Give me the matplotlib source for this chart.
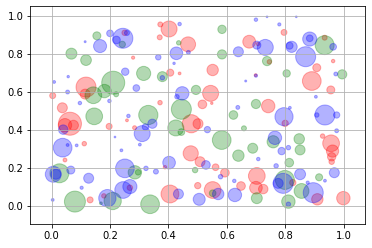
import matplotlib
matplotlib.use("Agg")
import matplotlib.pyplot as plt

colors = ["red", "green", "blue"]

red_x = [0.250, 0.402, 0.372, 0.370, 0.467, 0.279, 0.406, 0.438, 0.795, 0.676, 0.706, 0.745,
         0.551, 0.934, 0.907, 0.963, 0.890, 0.955, 0.698, 0.118, 0.115, 0.004, 0.037, 0.063,
         0.046, 0.075, 0.197, 0.112, 0.046, 0.132, 0.179, 0.268, 0.544, 0.516, 0.371, 0.548,
         0.284, 0.478, 0.501, 0.476, 0.508, 0.561, 0.593, 0.388, 0.551, 0.405, 0.500, 0.741,
         0.799, 0.956, 0.961, 0.958, 0.958, 0.927, 0.702, 0.699, 0.724, 0.825, 0.909, 0.998,
         0.648, 0.258]
red_y = [0.912, 0.932, 0.956, 0.888, 0.851, 0.781, 0.702, 0.698, 0.914, 0.865, 0.853, 0.759,
         0.716, 0.886, 0.728, 0.763, 0.658, 0.611, 0.689, 0.626, 0.589, 0.581, 0.517, 0.433,
         0.425, 0.425, 0.419, 0.328, 0.242, 0.032, 0.053, 0.096, 0.593, 0.535, 0.544, 0.541,
         0.412, 0.433, 0.433, 0.277, 0.233, 0.204, 0.175, 0.204, 0.084, 0.063, 0.107, 0.526,
         0.435, 0.330, 0.289, 0.259, 0.233, 0.368, 0.158, 0.096, 0.089, 0.123, 0.035, 0.041,
         0.105, 0.451]
red_s = [30, 256, 25, 25, 225, 10, 50, 8, 35, 165, 12, 20,
         130, 25, 64, 12, 350, 64, 8, 400, 100, 36, 100, 530,
         180, 100, 36, 20, 15, 36, 20, 30, 256, 75, 20, 6,
         16, 330, 100, 230, 100, 45, 75, 12, 280, 320, 40, 180,
         40, 280, 150, 70, 30, 20, 280, 160, 90, 40, 130, 180,
         75, 8]

green_x = [0.155, 0.068, 0.118, 0.211, 0.242, 0.435, 0.315, 0.379, 0.583, 0.583, 0.737, 0.934,
           0.804, 0.994, 0.143, 0.181, 0.146, 0.221, 0.027, 0.080, 0.209, 0.169, 0.494, 0.444,
           0.331, 0.622, 0.425, 0.444, 0.491, 0.285, 0.582, 0.639, 0.551, 0.337, 0.699, 0.658,
           0.758, 0.847, 0.850, 0.688, 0.813, 0.702, 0.798, 0.810, 0.855, 0.915, 0.296]
green_y = [0.896, 0.802, 0.768, 0.649, 0.851, 0.859, 0.698, 0.681, 0.930, 0.798, 0.763, 0.847,
           0.698, 0.693, 0.583, 0.605, 0.472, 0.588, 0.172, 0.023, 0.026, 0.014, 0.611, 0.509,
           0.479, 0.479, 0.411, 0.389, 0.189, 0.177, 0.347, 0.265, 0.067, 0.009, 0.537, 0.409,
           0.338, 0.353, 0.295, 0.304, 0.228, 0.041, 0.137, 0.023, 0.079, 0.151, 0.177]
green_s = [64, 121, 115, 530, 40, 20, 200, 100, 70, 85, 85, 360,
           55, 85, 280, 180, 280, 25, 360, 440, 300, 8, 85, 400,
           370, 75, 256, 45, 30, 180, 350, 130, 45, 350, 85, 25,
           150, 110, 100, 100, 75, 120, 360, 180, 220, 50, 30]

blue_x = [0.166, 0.200, 0.244, 0.222, 0.258, 0.115, 0.057, 0.438, 0.427, 0.468, 0.365, 0.419,
          0.252, 0.379, 0.699, 0.737, 0.779, 0.837, 0.702, 0.731, 0.639, 0.883, 0.883, 0.963,
          0.821, 0.814, 0.869, 0.972, 0.664, 0.699, 0.198, 0.055, 0.009, 0.097, 0.040, 0.038,
          0.086, 0.217, 0.055, 0.006, 0.015, 0.066, 0.127, 0.103, 0.004, 0.191, 0.245, 0.268,
          0.263, 0.290, 0.447, 0.429, 0.637, 0.345, 0.310, 0.321, 0.302, 0.239, 0.528, 0.578,
          0.402, 0.251, 0.323, 0.357, 0.570, 0.627, 0.434, 0.505, 0.533, 0.935, 0.975, 0.795,
          0.764, 0.787, 0.810, 0.707, 0.768, 0.967, 0.975, 0.792, 0.775, 0.810, 0.850, 0.895,
          0.876, 0.935, 0.815, 0.904, 0.907, 0.625]
blue_y = [0.842, 0.909, 0.883, 0.874, 0.911, 0.865, 0.681, 0.958, 0.804, 0.809, 0.783, 0.751,
          0.707, 0.675, 0.981, 0.996, 0.956, 0.996, 0.847, 0.835, 0.812, 0.879, 0.883, 0.838,
          0.838, 0.844, 0.786, 0.695, 0.658, 0.686, 0.553, 0.600, 0.653, 0.542, 0.402, 0.307,
          0.319, 0.363, 0.321, 0.167, 0.167, 0.189, 0.146, 0.096, 0.032, 0.041, 0.084, 0.102,
          0.474, 0.621, 0.593, 0.575, 0.519, 0.433, 0.381, 0.416, 0.323, 0.293, 0.216, 0.154,
          0.228, 0.198, 0.198, 0.181, 0.063, 0.058, 0.063, 0.035, 0.402, 0.479, 0.479, 0.470,
          0.359, 0.289, 0.307, 0.247, 0.211, 0.175, 0.396, 0.119, 0.119, 0.009, 0.167, 0.070,
          0.123, 0.133, 0.517, 0.575, 0.479, 0.132]
blue_s = [170, 45, 400, 60, 25, 4, 6, 12, 160, 15, 30, 6,
          55, 20, 12, 3, 10, 3, 65, 256, 100, 200, 45, 45,
          125, 50, 400, 15, 4, 10, 12, 15, 8, 12, 90, 350,
          8, 3, 8, 256, 100, 64, 100, 10, 8, 300, 280, 200,
          12, 45, 180, 20, 15, 85, 256, 40, 8, 8, 75, 20,
          160, 350, 20, 25, 130, 180, 100, 144, 40, 400, 40, 330,
          180, 55, 20, 12, 20, 100, 15, 400, 100, 20, 120, 400,
          10, 8, 8, 8, 20, 12]

series = {
    "red": (red_x, red_y, red_s),
    "green": (green_x, green_y, green_s),
    "blue": (blue_x, blue_y, blue_s),
}

fig = plt.figure(figsize=(372 / 72, 248 / 72), dpi=72)
ax = fig.add_axes([0.0815, 0.0968, 0.9005, 0.879])

for c in colors:
    xs, ys, ss = series[c]
    ax.scatter(xs, ys, c=c, s=ss, alpha=0.3, edgecolors=c, linewidths=1.0)

ax.set_xlim(-0.0725, 1.073)
ax.set_ylim(-0.095, 1.053)
ax.set_xticks([0.0, 0.2, 0.4, 0.6, 0.8, 1.0])
ax.set_yticks([0.0, 0.2, 0.4, 0.6, 0.8, 1.0])
ax.grid(True)

fig.savefig("out.png", dpi=72)
